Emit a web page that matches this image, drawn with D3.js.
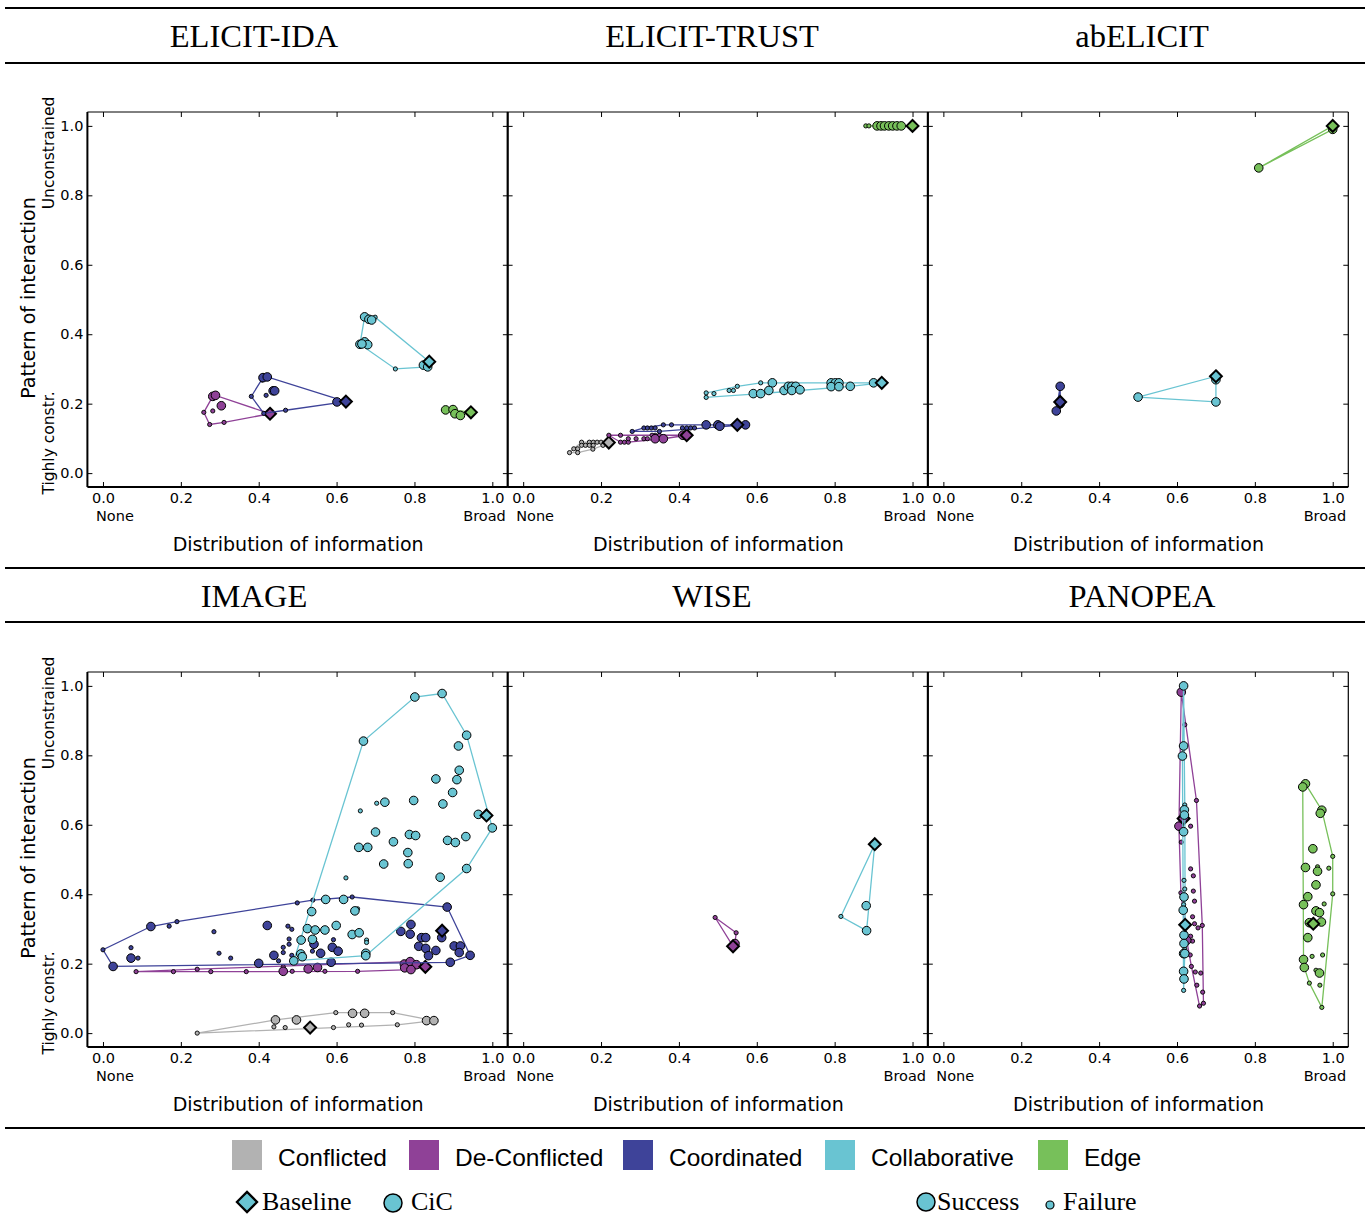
<!DOCTYPE html>
<html><head><meta charset="utf-8">
<script src="https://cdn.jsdelivr.net/npm/d3@7"></script>
<style>body{margin:0;background:#fff}</style>
</head><body><svg id="c" width="1367" height="1217"></svg>
<script>
// ---------------- data ----------------
const categories = ["Conflicted", "De-Conflicted", "Coordinated", "Collaborative", "Edge"];
const panelTitles = ["ELICIT-IDA", "ELICIT-TRUST", "abELICIT", "IMAGE", "WISE", "PANOPEA"];
const xTicks = [0, 0.2, 0.4, 0.6, 0.8, 1.0];
const yTicks = [0, 0.2, 0.4, 0.6, 0.8, 1.0];
const xEndLabels = ["None", "Broad"];
const yEndLabels = ["Tighly constr.", "Unconstrained"];
const xAxisTitle = "Distribution of information";
const yAxisTitle = "Pattern of interaction";
const markerLabels = ["Baseline", "CiC"];
const outcomeLabels = ["Success", "Failure"];

// rows: [category index, outcome ('b' baseline, 's' success, 'f' failure), x, y]
const elicitIda = [
  [1,'f',0.259,0.175],[1,'f',0.282,0.179],[1,'f',0.274,0.140],[1,'f',0.311,0.146],
  [1,'s',0.282,0.221],[1,'s',0.289,0.224],[1,'s',0.304,0.194],[1,'b',0.429,0.171],
  [2,'f',0.381,0.221],[2,'f',0.419,0.224],[2,'f',0.413,0.172],[2,'f',0.469,0.181],[2,'f',0.409,0.268],
  [2,'s',0.411,0.275],[2,'s',0.422,0.277],[2,'s',0.437,0.237],[2,'s',0.441,0.237],[2,'s',0.601,0.205],
  [2,'b',0.624,0.206],
  [3,'f',0.699,0.449],[3,'f',0.751,0.300],
  [3,'s',0.672,0.450],[3,'s',0.683,0.443],[3,'s',0.690,0.441],[3,'s',0.660,0.371],[3,'s',0.672,0.378],
  [3,'s',0.680,0.370],[3,'s',0.665,0.372],[3,'s',0.823,0.311],[3,'s',0.834,0.306],[3,'b',0.838,0.321],
  [4,'s',0.880,0.182],[4,'s',0.899,0.183],[4,'s',0.904,0.171],[4,'s',0.918,0.166],[4,'b',0.945,0.175]
];
const elicitTrust = [
  [0,'f',0.119,0.059],[0,'f',0.130,0.070],[0,'f',0.140,0.070],[0,'f',0.140,0.059],[0,'f',0.150,0.089],
  [0,'f',0.150,0.080],[0,'f',0.160,0.080],[0,'f',0.170,0.089],[0,'f',0.180,0.089],[0,'f',0.190,0.089],
  [0,'f',0.200,0.089],[0,'f',0.170,0.080],[0,'f',0.180,0.080],[0,'f',0.179,0.069],[0,'f',0.205,0.080],
  [0,'b',0.220,0.088],
  [1,'f',0.220,0.109],[1,'f',0.250,0.109],[1,'f',0.250,0.089],[1,'f',0.260,0.089],[1,'f',0.270,0.089],
  [1,'f',0.270,0.099],[1,'f',0.290,0.099],[1,'f',0.310,0.099],[1,'f',0.319,0.099],[1,'f',0.331,0.109],
  [1,'f',0.339,0.109],[1,'f',0.350,0.109],
  [1,'s',0.339,0.099],[1,'s',0.360,0.099],[1,'s',0.410,0.109],[1,'b',0.420,0.109],
  [2,'f',0.280,0.120],[2,'f',0.310,0.130],[2,'f',0.319,0.130],[2,'f',0.329,0.130],[2,'f',0.339,0.130],
  [2,'f',0.350,0.120],[2,'f',0.360,0.139],[2,'f',0.381,0.139],[2,'f',0.409,0.130],[2,'f',0.420,0.130],
  [2,'f',0.430,0.130],[2,'f',0.440,0.130],[2,'f',0.511,0.139],
  [2,'s',0.470,0.139],[2,'s',0.500,0.139],[2,'s',0.505,0.135],[2,'s',0.571,0.139],[2,'b',0.550,0.139],
  [3,'f',0.470,0.231],[3,'f',0.470,0.218],[3,'f',0.490,0.229],[3,'f',0.529,0.238],[3,'f',0.540,0.238],
  [3,'f',0.550,0.250],[3,'f',0.610,0.260],
  [3,'s',0.640,0.260],[3,'s',0.591,0.229],[3,'s',0.610,0.229],[3,'s',0.631,0.238],[3,'s',0.670,0.238],
  [3,'s',0.681,0.250],[3,'s',0.690,0.250],[3,'s',0.700,0.250],[3,'s',0.690,0.238],[3,'s',0.711,0.240],
  [3,'s',0.791,0.260],[3,'s',0.802,0.260],[3,'s',0.811,0.260],[3,'s',0.791,0.249],[3,'s',0.811,0.249],
  [3,'s',0.840,0.250],[3,'s',0.900,0.260],[3,'b',0.921,0.260],
  [4,'f',0.880,1.0],[4,'f',0.888,1.0],
  [4,'s',0.909,1.0],[4,'s',0.919,1.0],[4,'s',0.928,1.0],[4,'s',0.939,1.0],[4,'s',0.949,1.0],
  [4,'s',0.960,1.0],[4,'s',0.971,1.0],[4,'b',1.0,1.0]
];
const abElicit = [
  [2,'s',0.300,0.250],[2,'s',0.290,0.179],[2,'s',0.300,0.200],[2,'b',0.300,0.205],
  [3,'s',0.700,0.269],[3,'s',0.500,0.219],[3,'s',0.700,0.205],[3,'b',0.700,0.279],
  [4,'s',1.0,0.990],[4,'s',0.810,0.879],[4,'b',1.0,1.0]
];
const imageData = [
  [0,'f',0.242,0.0],[0,'f',0.439,0.018],[0,'f',0.468,0.016],[0,'f',0.598,0.059],[0,'f',0.592,0.016],
  [0,'f',0.631,0.024],[0,'f',0.664,0.023],[0,'f',0.744,0.059],[0,'f',0.756,0.024],
  [0,'s',0.443,0.038],[0,'s',0.497,0.038],[0,'s',0.641,0.057],[0,'s',0.672,0.057],[0,'s',0.831,0.036],
  [0,'s',0.850,0.036],[0,'b',0.532,0.016],
  [1,'f',0.085,0.177],[1,'f',0.181,0.177],[1,'f',0.242,0.184],[1,'f',0.277,0.177],[1,'f',0.368,0.177],
  [1,'f',0.486,0.178],[1,'f',0.570,0.178],[1,'f',0.654,0.178],[1,'f',0.463,0.191],
  [1,'s',0.774,0.199],[1,'s',0.789,0.206],[1,'s',0.805,0.197],[1,'s',0.775,0.188],[1,'s',0.791,0.183],
  [1,'s',0.463,0.178],[1,'s',0.527,0.185],[1,'s',0.551,0.189],[1,'b',0.828,0.191],
  [2,'f',0.0,0.240],[2,'f',0.072,0.246],[2,'f',0.090,0.216],[2,'f',0.170,0.308],[2,'f',0.190,0.321],
  [2,'f',0.285,0.292],[2,'f',0.298,0.230],[2,'f',0.328,0.216],[2,'f',0.499,0.375],[2,'f',0.539,0.383],
  [2,'f',0.640,0.392],[2,'f',0.475,0.308],[2,'f',0.485,0.299],[2,'f',0.478,0.271],[2,'f',0.478,0.256],
  [2,'f',0.463,0.247],[2,'f',0.463,0.232],[2,'f',0.485,0.224],[2,'f',0.451,0.208],[2,'f',0.538,0.236],
  [2,'f',0.592,0.269],
  [2,'s',0.123,0.307],[2,'s',0.026,0.192],[2,'s',0.072,0.216],[2,'s',0.422,0.310],[2,'s',0.439,0.224],
  [2,'s',0.400,0.201],[2,'s',0.542,0.256],[2,'s',0.559,0.230],[2,'s',0.589,0.247],[2,'s',0.604,0.236],
  [2,'s',0.586,0.204],[2,'s',0.765,0.293],[2,'s',0.791,0.313],[2,'s',0.789,0.285],[2,'s',0.818,0.275],
  [2,'s',0.829,0.275],[2,'s',0.870,0.275],[2,'s',0.811,0.250],[2,'s',0.829,0.244],[2,'s',0.836,0.223],
  [2,'s',0.855,0.238],[2,'s',0.902,0.251],[2,'s',0.918,0.251],[2,'s',0.915,0.232],[2,'s',0.943,0.224],
  [2,'s',0.892,0.204],[2,'s',0.884,0.363],[2,'b',0.871,0.295],
  [3,'f',0.703,0.662],[3,'f',0.624,0.447],[3,'f',0.654,0.358],[3,'f',0.677,0.268],[3,'f',0.677,0.261],
  [3,'f',0.661,0.640],
  [3,'s',0.669,0.841],[3,'s',0.801,0.968],[3,'s',0.871,0.978],[3,'s',0.934,0.858],[3,'s',0.913,0.827],
  [3,'s',0.915,0.757],[3,'s',0.909,0.730],[3,'s',0.855,0.732],[3,'s',0.898,0.693],[3,'s',0.724,0.665],
  [3,'s',0.798,0.670],[3,'s',0.873,0.660],[3,'s',0.964,0.630],[3,'s',1.0,0.591],[3,'s',0.700,0.579],
  [3,'s',0.746,0.551],[3,'s',0.657,0.535],[3,'s',0.680,0.535],[3,'s',0.787,0.572],[3,'s',0.803,0.569],
  [3,'s',0.885,0.555],[3,'s',0.905,0.549],[3,'s',0.932,0.566],[3,'s',0.783,0.520],[3,'s',0.721,0.487],
  [3,'s',0.784,0.488],[3,'s',0.866,0.449],[3,'s',0.934,0.474],[3,'s',0.572,0.385],[3,'s',0.618,0.385],
  [3,'s',0.536,0.350],[3,'s',0.647,0.352],[3,'s',0.525,0.301],[3,'s',0.545,0.297],[3,'s',0.570,0.297],
  [3,'s',0.599,0.310],[3,'s',0.640,0.284],[3,'s',0.658,0.289],[3,'s',0.509,0.268],[3,'s',0.538,0.270],
  [3,'s',0.490,0.208],[3,'s',0.508,0.228],[3,'s',0.512,0.220],[3,'s',0.675,0.230],[3,'s',0.675,0.223],
  [3,'b',0.985,0.627]
];
const wiseData = [
  [1,'f',0.493,0.333],[1,'f',0.547,0.289],[1,'s',0.544,0.258],[1,'b',0.539,0.250],
  [3,'f',0.816,0.336],[3,'s',0.881,0.367],[3,'s',0.882,0.295],[3,'b',0.903,0.544]
];
const panopeaData = [
  [1,'f',0.620,0.888],[1,'f',0.650,0.670],[1,'f',0.635,0.596],[1,'f',0.635,0.473],[1,'f',0.642,0.453],
  [1,'f',0.642,0.409],[1,'f',0.645,0.380],[1,'f',0.640,0.335],[1,'f',0.645,0.315],[1,'f',0.654,0.303],
  [1,'f',0.665,0.310],[1,'f',0.635,0.279],[1,'f',0.640,0.265],[1,'f',0.634,0.225],[1,'f',0.637,0.192],
  [1,'f',0.647,0.176],[1,'f',0.661,0.173],[1,'f',0.651,0.138],[1,'f',0.666,0.118],[1,'f',0.668,0.086],
  [1,'f',0.658,0.078],[1,'f',0.611,0.550],[1,'f',0.610,0.404],
  [1,'s',0.611,0.982],[1,'s',0.605,0.596],[1,'s',0.625,0.267],[1,'b',0.617,0.618],
  [3,'f',0.620,0.657],[3,'f',0.618,0.440],[3,'f',0.620,0.415],[3,'f',0.617,0.370],[3,'f',0.621,0.288],
  [3,'f',0.620,0.242],[3,'f',0.617,0.123],[3,'f',0.616,0.392],
  [3,'s',0.617,1.0],[3,'s',0.617,0.827],[3,'s',0.614,0.798],[3,'s',0.619,0.643],[3,'s',0.617,0.580],
  [3,'s',0.618,0.392],[3,'s',0.616,0.354],[3,'s',0.618,0.282],[3,'s',0.618,0.258],[3,'s',0.617,0.229],
  [3,'s',0.620,0.229],[3,'s',0.617,0.178],[3,'s',0.618,0.156],[3,'s',0.619,0.628],[3,'b',0.621,0.312],
  [4,'f',0.961,0.479],[4,'f',0.990,0.475],[4,'f',1.0,0.509],[4,'f',1.0,0.401],[4,'f',0.978,0.372],
  [4,'f',0.947,0.221],[4,'f',0.974,0.225],[4,'f',0.957,0.181],[4,'f',0.940,0.144],[4,'f',0.967,0.138],
  [4,'f',0.972,0.074],
  [4,'s',0.930,0.718],[4,'s',0.923,0.709],[4,'s',0.972,0.642],[4,'s',0.968,0.633],[4,'s',0.949,0.531],
  [4,'s',0.930,0.477],[4,'s',0.961,0.466],[4,'s',0.957,0.427],[4,'s',0.936,0.393],[4,'s',0.925,0.370],
  [4,'s',0.957,0.352],[4,'s',0.966,0.347],[4,'s',0.940,0.318],[4,'s',0.971,0.320],[4,'s',0.936,0.275],
  [4,'s',0.925,0.212],[4,'s',0.927,0.189],[4,'s',0.966,0.173],[4,'b',0.950,0.315]
];
const panelData = [elicitIda, elicitTrust, abElicit, imageData, wiseData, panopeaData];

// ---------------- style ----------------
const catColors = ["#b2b2b2", "#8f4197", "#3e4399", "#69c4d2", "#77c05a"];
const SANS = "DejaVu Sans";
const SERIF = "Liberation Serif";

const svg = d3.select("#c");
svg.append("rect").attr("width", 1367).attr("height", 1217).attr("fill", "#fff");

// horizontal rules
[8, 63, 568, 622, 1128].forEach(yy => {
  svg.append("line").attr("x1", 5).attr("x2", 1365).attr("y1", yy).attr("y2", yy)
    .attr("stroke", "#000").attr("stroke-width", 1.8);
});

// titles
const titleX = [254, 712, 1142];
panelTitles.forEach((t, i) => {
  svg.append("text").attr("x", titleX[i % 3]).attr("y", 47 + 560 * Math.floor(i / 3))
    .attr("text-anchor", "middle").attr("font-family", SERIF).attr("font-size", 32.5).text(t);
});

const PW = 420.5, PH = 375;
const lefts = [87.4, 507.6, 927.8], tops = [112, 672];
const diamond = d3.symbol().type(d3.symbolDiamond2);

panelData.forEach((data, i) => {
  const col = i % 3, row = Math.floor(i / 3);
  const L = lefts[col], T = tops[row];
  const x = d3.scaleLinear().domain([-0.04, 1.04]).range([L, L + PW]);
  const y = d3.scaleLinear().domain([-0.04, 1.04]).range([T + PH, T]);
  const g = svg.append("g");

  // axes with inward ticks
  const fmt = d3.format(".1f");
  const ab = g.append("g").attr("transform", `translate(0,${T + PH})`)
    .call(d3.axisBottom(x).tickValues(xTicks).tickSizeInner(-5).tickSizeOuter(0).tickPadding(6).tickFormat(fmt));
  const at = g.append("g").attr("transform", `translate(0,${T})`)
    .call(d3.axisTop(x).tickValues(xTicks).tickSizeInner(-5).tickSizeOuter(0).tickFormat(""));
  const al = g.append("g").attr("transform", `translate(${L},0)`)
    .call(d3.axisLeft(y).tickValues(yTicks).tickSizeInner(-5).tickSizeOuter(0).tickPadding(4)
      .tickFormat(col === 0 ? fmt : ""));
  const ar = g.append("g").attr("transform", `translate(${L + PW},0)`)
    .call(d3.axisRight(y).tickValues(yTicks).tickSizeInner(-5).tickSizeOuter(0).tickFormat(""));
  [ab, at, al, ar].forEach(a => {
    a.select(".domain").remove();
    a.selectAll(".tick line").attr("stroke", "#000").attr("stroke-width", 1);
    a.selectAll("text").attr("font-family", SANS).attr("font-size", 14.5).attr("fill", "#000");
  });
  // second line of end tick labels
  g.append("text").attr("x", x(0) - 7).attr("y", T + PH + 34).attr("font-family", SANS)
    .attr("font-size", 14.5).text(xEndLabels[0]);
  g.append("text").attr("x", x(1) + 13.5).attr("y", T + PH + 34).attr("text-anchor", "end")
    .attr("font-family", SANS).attr("font-size", 14.5).text(xEndLabels[1]);

  // axis title
  g.append("text").attr("x", L + PW / 2 + 0.5).attr("y", T + PH + 63.7).attr("text-anchor", "middle")
    .attr("font-family", SANS).attr("font-size", 19).text(xAxisTitle);
  if (col === 0) {
    g.append("text").attr("transform", `translate(34.5,${T + 186}) rotate(-90)`).attr("text-anchor", "middle")
      .attr("font-family", SANS).attr("font-size", 19).text(yAxisTitle);
    g.append("text").attr("transform", `translate(53.5,${T + 331}) rotate(-90)`).attr("text-anchor", "middle")
      .attr("font-family", SANS).attr("font-size", 15.5).text(yEndLabels[0]);
    g.append("text").attr("transform", `translate(53.5,${T + 41}) rotate(-90)`).attr("text-anchor", "middle")
      .attr("font-family", SANS).attr("font-size", 15.5).text(yEndLabels[1]);
  }

  // groups: hull + points
  categories.forEach((c, ci) => {
    const rows = data.filter(d => d[0] === ci);
    if (!rows.length) return;
    const pts = rows.map(d => [x(d[2]), y(d[3])]);
    let hull = pts.length >= 3 ? d3.polygonHull(pts) : null;
    if (!hull) {
      const s = pts.slice().sort((a, b) => a[0] - b[0] || a[1] - b[1]);
      hull = [s[0], s[s.length - 1]];
    }
    g.append("path").attr("d", d3.line()(hull) + (hull.length > 2 ? "Z" : ""))
      .attr("fill", "none").attr("stroke", catColors[ci]).attr("stroke-width", 1.3);
    rows.filter(d => d[1] === 'f').forEach(d => {
      g.append("circle").attr("cx", x(d[2])).attr("cy", y(d[3])).attr("r", 2.1)
        .attr("fill", catColors[ci]).attr("stroke", "#000").attr("stroke-width", 0.9);
    });
    rows.filter(d => d[1] === 's').forEach(d => {
      g.append("circle").attr("cx", x(d[2])).attr("cy", y(d[3])).attr("r", 4.3)
        .attr("fill", catColors[ci]).attr("stroke", "#000").attr("stroke-width", 1);
    });
    rows.filter(d => d[1] === 'b').forEach(d => {
      g.append("path").attr("d", diamond.size(90)()).attr("transform", `translate(${x(d[2])},${y(d[3])})`)
        .attr("fill", catColors[ci]).attr("stroke", "#000").attr("stroke-width", 2);
    });
  });

  // spines
  g.append("line").attr("x1", L).attr("x2", L + PW).attr("y1", T).attr("y2", T).attr("stroke", "#000").attr("stroke-width", 1);
  g.append("line").attr("x1", L + PW).attr("x2", L + PW).attr("y1", T).attr("y2", T + PH).attr("stroke", "#000").attr("stroke-width", 1.2);
  g.append("line").attr("x1", L).attr("x2", L).attr("y1", T).attr("y2", T + PH).attr("stroke", "#000").attr("stroke-width", 2);
  g.append("line").attr("x1", L).attr("x2", L + PW).attr("y1", T + PH).attr("y2", T + PH).attr("stroke", "#000").attr("stroke-width", 2);
});

// ---------------- legend ----------------
const legX = [232, 409, 623, 825, 1038];
categories.forEach((c, i) => {
  svg.append("rect").attr("x", legX[i]).attr("y", 1140).attr("width", 30).attr("height", 30).attr("fill", catColors[i]);
  svg.append("text").attr("x", legX[i] + 46).attr("y", 1166).attr("font-family", "Liberation Sans")
    .attr("font-size", 24.5).text(c);
});
const legY = 1210;
const legFont = 26;
svg.append("path").attr("d", diamond.size(260)()).attr("transform", "translate(247,1202)")
  .attr("fill", catColors[3]).attr("stroke", "#000").attr("stroke-width", 2.2);
svg.append("text").attr("x", 262).attr("y", legY).attr("font-family", SERIF).attr("font-size", legFont).text(markerLabels[0]);
svg.append("circle").attr("cx", 393).attr("cy", 1203).attr("r", 9).attr("fill", catColors[3]).attr("stroke", "#000").attr("stroke-width", 1.5);
svg.append("text").attr("x", 411).attr("y", legY).attr("font-family", SERIF).attr("font-size", legFont).text(markerLabels[1]);
svg.append("circle").attr("cx", 926).attr("cy", 1202).attr("r", 9).attr("fill", catColors[3]).attr("stroke", "#000").attr("stroke-width", 1.5);
svg.append("text").attr("x", 937).attr("y", legY).attr("font-family", SERIF).attr("font-size", legFont).text(outcomeLabels[0]);
svg.append("circle").attr("cx", 1050).attr("cy", 1205).attr("r", 4).attr("fill", catColors[3]).attr("stroke", "#000").attr("stroke-width", 1.2);
svg.append("text").attr("x", 1063).attr("y", legY).attr("font-family", SERIF).attr("font-size", legFont).text(outcomeLabels[1]);
</script>
</body></html>
